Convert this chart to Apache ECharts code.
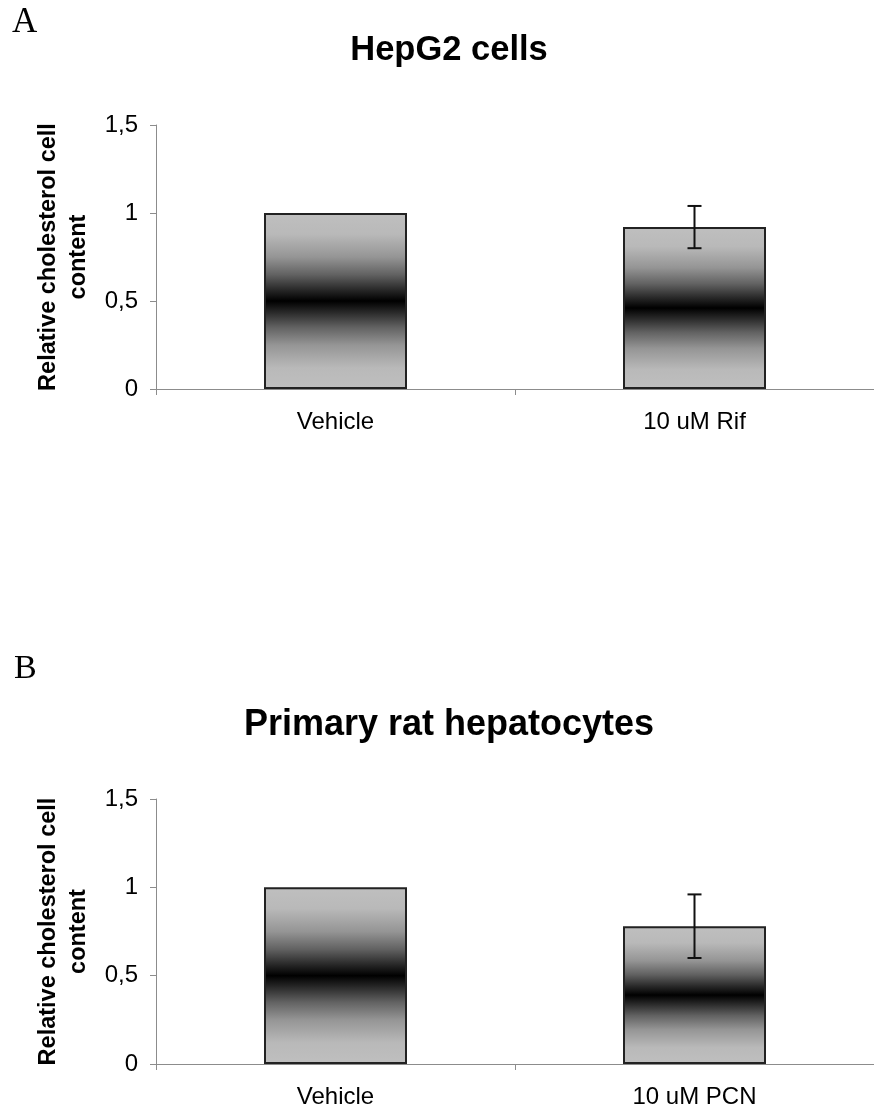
<!DOCTYPE html>
<html>
<head>
<meta charset="utf-8">
<script src="https://cdn.jsdelivr.net/npm/echarts@6/dist/echarts.min.js"></script>
<style>
html,body{margin:0;padding:0;background:#fff;}
#main{width:874px;height:1112px;}
</style>
</head>
<body>
<div id="main"></div>
<script>
// ---- data ----
const categoriesA = ['Vehicle', '10 uM Rif'];
const valuesA = [1.0, 0.92];
const errorsA = [0, 0.12];

const categoriesB = ['Vehicle', '10 uM PCN'];
const valuesB = [1.0, 0.78];
const errorsB = [0, 0.18];

const yTicks = [0, 0.5, 1, 1.5];
const titleA = 'HepG2 cells';
const titleB = 'Primary rat hepatocytes';
const yName = 'Relative cholesterol cell\ncontent';

// ---- styling ----
const FONT = 'Liberation Sans, Arial, sans-serif';
const barGradient = new echarts.graphic.LinearGradient(0, 0, 0, 1, [
  {offset: 0, color: '#bfbfbf'},
  {offset: 0.12, color: '#b9b9b9'},
  {offset: 0.25, color: '#959595'},
  {offset: 0.35, color: '#626262'},
  {offset: 0.44, color: '#262626'},
  {offset: 0.5, color: '#000000'},
  {offset: 0.56, color: '#262626'},
  {offset: 0.65, color: '#626262'},
  {offset: 0.75, color: '#959595'},
  {offset: 0.88, color: '#b9b9b9'},
  {offset: 1, color: '#bfbfbf'}
]);

function xAxisFor(cats, gridIndex) {
  return {
    type: 'category', gridIndex: gridIndex, data: cats,
    axisLine: {lineStyle: {color: '#8c8c8c', width: 1}},
    axisTick: {show: true, length: 6, lineStyle: {color: '#8c8c8c'}},
    axisLabel: {color: '#000', fontFamily: FONT, fontSize: 24, margin: 21}
  };
}
function yAxisFor(gridIndex) {
  return {
    type: 'value', gridIndex: gridIndex, min: yTicks[0], max: yTicks[yTicks.length - 1], interval: 0.5,
    name: yName, nameLocation: 'middle', nameRotate: 90, nameGap: 62,
    nameTextStyle: {color: '#000', fontFamily: FONT, fontSize: 23.5, fontWeight: 'bold', lineHeight: 30, align: 'center'},
    axisLine: {show: true, lineStyle: {color: '#8c8c8c', width: 1}},
    axisTick: {show: true, length: 6, lineStyle: {color: '#8c8c8c'}},
    splitLine: {show: false},
    axisLabel: {color: '#000', fontFamily: FONT, fontSize: 24, margin: 18,
      formatter: v => String(v).replace('.', ',')}
  };
}
function barSeries(vals, idx) {
  return {
    type: 'bar', xAxisIndex: idx, yAxisIndex: idx, data: vals, barWidth: 143,
    itemStyle: {color: barGradient, borderColor: '#222', borderWidth: 2},
    silent: true, animation: false
  };
}
function errSeries(vals, errs, idx) {
  const data = vals.map((v, i) => [i, v - errs[i], v + errs[i], errs[i]]);
  return {
    type: 'custom', xAxisIndex: idx, yAxisIndex: idx, data: data, z: 5, animation: false,
    encode: {x: 0, y: [1, 2]},
    renderItem: function (params, api) {
      if (api.value(3) <= 0) return null;
      const lo = api.coord([api.value(0), api.value(1)]);
      const hi = api.coord([api.value(0), api.value(2)]);
      const cap = 7;
      const st = {stroke: '#111', lineWidth: 2};
      return {type: 'group', children: [
        {type: 'line', shape: {x1: lo[0], y1: lo[1], x2: hi[0], y2: hi[1]}, style: st},
        {type: 'line', shape: {x1: lo[0] - cap, y1: lo[1], x2: lo[0] + cap, y2: lo[1]}, style: st},
        {type: 'line', shape: {x1: hi[0] - cap, y1: hi[1], x2: hi[0] + cap, y2: hi[1]}, style: st}
      ]};
    }
  };
}

const chart = echarts.init(document.getElementById('main'), null, {renderer: 'canvas'});
chart.setOption({
  backgroundColor: '#fff',
  animation: false,
  title: [
    {text: 'A', left: 7, top: 0, textStyle: {fontFamily: 'Liberation Serif, Times New Roman, serif', fontSize: 35, fontWeight: 'normal', color: '#000'}},
    {text: titleA, left: 444, textAlign: 'center', top: 28, textStyle: {fontFamily: FONT, fontSize: 34.5, fontWeight: 'bold', color: '#000'}},
    {text: 'B', left: 9, top: 647, textStyle: {fontFamily: 'Liberation Serif, Times New Roman, serif', fontSize: 34, fontWeight: 'normal', color: '#000'}},
    {text: titleB, left: 444, textAlign: 'center', top: 702, textStyle: {fontFamily: FONT, fontSize: 36, fontWeight: 'bold', color: '#000'}}
  ],
  grid: [
    {left: 156, top: 125, width: 720, height: 264},
    {left: 156, top: 799, width: 720, height: 265}
  ],
  xAxis: [xAxisFor(categoriesA, 0), xAxisFor(categoriesB, 1)],
  yAxis: [yAxisFor(0), yAxisFor(1)],
  series: [
    barSeries(valuesA, 0), errSeries(valuesA, errorsA, 0),
    barSeries(valuesB, 1), errSeries(valuesB, errorsB, 1)
  ]
});
</script>
</body>
</html>
